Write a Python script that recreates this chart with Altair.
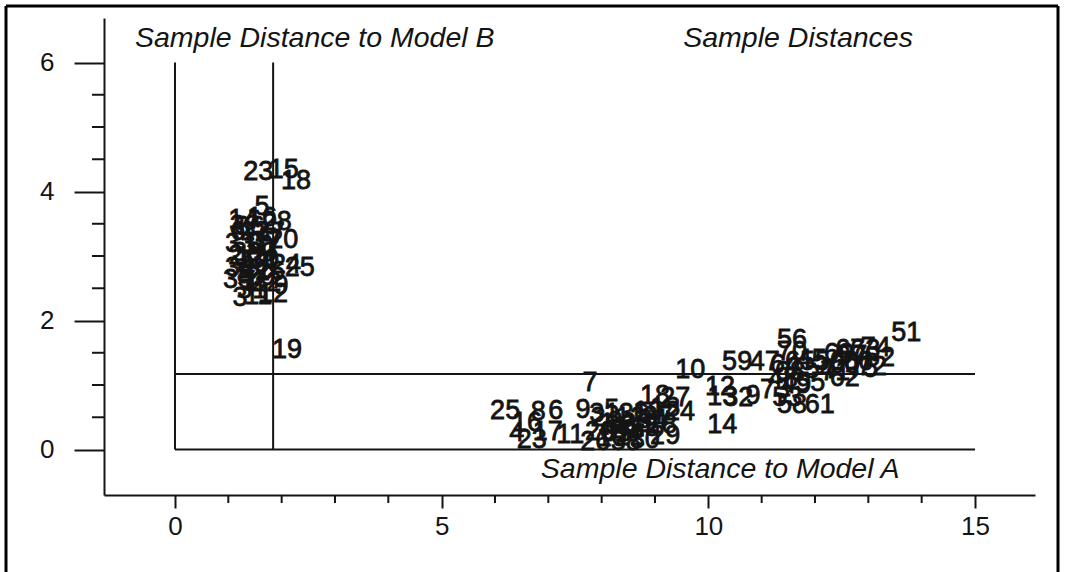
import altair as alt
import pandas as pd

# ---------- data ----------
# Model B training samples
b_labels = ["23", "15", "18", "5", "14", "16", "28", "32", "6", "13", "27", "20", "33", "10", "7",
            "2", "17", "30", "24", "25", "34", "21", "26", "35", "1", "22", "9", "3", "11", "12", "19",
            "36", "37", "38", "39", "40", "4", "8", "29", "31"]
b_x = [1.56, 2.04, 2.27, 1.63, 1.28, 1.63, 1.91, 1.31, 1.18, 1.50, 1.78, 2.03, 1.22, 1.56, 1.82,
       1.14, 1.41, 1.67, 2.08, 2.34, 1.22, 1.52, 1.78, 1.18, 1.44, 1.71, 1.99, 1.22, 1.56, 1.84, 2.10,
       1.40, 1.70, 1.35, 1.62, 1.48, 1.75, 1.30, 1.60, 1.45]
b_y = [4.30, 4.33, 4.16, 3.76, 3.56, 3.59, 3.53, 3.47, 3.37, 3.37, 3.36, 3.25, 3.19, 3.16, 3.09,
       3.00, 2.97, 2.94, 2.86, 2.81, 2.81, 2.78, 2.75, 2.63, 2.60, 2.58, 2.53, 2.35, 2.38, 2.41, 1.54,
       3.45, 3.22, 3.05, 3.05, 2.88, 2.90, 2.70, 2.68, 2.48]

# Model A training samples
a_labels = ["7", "25", "16", "8", "6", "4", "23", "17", "11", "9", "5", "2", "3", "12", "19", "13",
            "18", "27", "24", "20", "10", "21", "15", "28", "26", "22", "29", "30", "1", "14",
            "31", "32", "33", "34", "35", "36", "37", "38"]
a_x = [7.78, 6.19, 6.60, 6.81, 7.14, 6.41, 6.69, 6.99, 7.41, 7.65, 8.19, 7.93, 8.25, 8.53, 8.87, 9.19,
       9.00, 9.38, 9.47, 7.97, 8.19, 8.44, 8.81, 9.13, 7.88, 8.53, 9.19, 8.81, 8.10, 10.26,
       8.05, 8.35, 8.65, 8.95, 8.30, 8.60, 9.05, 8.45]
a_y = [1.03, 0.60, 0.41, 0.58, 0.60, 0.26, 0.15, 0.27, 0.22, 0.61, 0.61, 0.49, 0.43, 0.49, 0.58, 0.64,
       0.83, 0.80, 0.58, 0.27, 0.18, 0.30, 0.33, 0.38, 0.12, 0.20, 0.21, 0.15, 0.40, 0.38,
       0.55, 0.36, 0.40, 0.45, 0.25, 0.55, 0.50, 0.12]

# test samples
t_labels = ["10", "12", "13", "32", "9", "59", "47", "56", "70", "64", "65", "68", "45", "55", "73",
            "53", "58", "61", "62", "50", "67", "63", "74", "66", "60", "72", "52", "51", "71", "54",
            "57", "69", "75", "48", "49"]
t_x = [9.66, 10.22, 10.26, 10.56, 10.84, 10.54, 11.06, 11.57, 11.57, 11.44, 11.72, 11.53, 11.94, 11.91, 11.25,
       11.48, 11.57, 12.09, 12.56, 12.28, 12.66, 12.94, 13.14, 12.81, 12.56, 13.07, 13.22, 13.71, 12.38, 12.09,
       12.70, 12.45, 12.90, 11.40, 11.65]
t_y = [1.23, 0.97, 0.81, 0.80, 0.83, 1.36, 1.36, 1.70, 1.51, 1.31, 1.36, 1.20, 1.39, 1.03, 0.92,
       0.80, 0.69, 0.69, 1.11, 1.36, 1.54, 1.54, 1.57, 1.36, 1.31, 1.28, 1.42, 1.81, 1.20, 1.23,
       1.45, 1.48, 1.25, 1.10, 1.00]

# critical-distance limits
crit_a = 1.84
crit_b = 1.17
x_major = [0, 5, 10, 15]
y_major = [0, 2, 4, 6]
x_minor = [1, 2, 3, 4, 6, 7, 8, 9, 11, 12, 13, 14]
y_minor = [0.5, 1, 1.5, 2.5, 3, 3.5, 4.5, 5, 5.5]

annotations = ["Sample Distance to Model B", "Sample Distances", "Sample Distance to Model A"]
ann_x = [-0.75, 9.53, 6.86]
ann_y = [6.38, 6.38, -0.30]

# ---------- tables ----------
pts = pd.DataFrame({
    "label": b_labels + a_labels + t_labels,
    "x": b_x + a_x + t_x,
    "y": b_y + a_y + t_y,
})
vlines = pd.DataFrame({"x": [0, crit_a], "y": [0, 0], "y2": [6, 6]})
hlines = pd.DataFrame({"y": [0, crit_b], "x": [0, 0], "x2": [15, 15]})
xmin_df = pd.DataFrame({"x": x_minor})
ymin_df = pd.DataFrame({"y": y_minor})
ann_df = pd.DataFrame({"text": annotations, "x": ann_x, "y": ann_y})

W, H = 931, 477
FONT = "Liberation Sans"
INK = "#141414"

xs = alt.Scale(domain=[-1.331, 16.125], nice=False, zero=False)
ys = alt.Scale(domain=[-0.705, 6.69], nice=False, zero=False)

xaxis = alt.Axis(values=x_major, format="d", tickSize=13, tickWidth=2, domainWidth=2,
                 grid=False, title=None, labelFlush=False, labelPadding=5)
yaxis = alt.Axis(values=y_major, format="d", tickSize=30, tickWidth=2, domainWidth=2,
                 grid=False, title=None, labelFlush=False, labelPadding=20)

X = lambda f: alt.X(f, scale=xs, axis=xaxis)
Y = lambda f: alt.Y(f, scale=ys, axis=yaxis)

vl = alt.Chart(vlines).mark_rule(color=INK, strokeWidth=2).encode(
    x=X("x:Q"), y=Y("y:Q"), y2="y2:Q")
hl = alt.Chart(hlines).mark_rule(color=INK, strokeWidth=2).encode(
    y=Y("y:Q"), x=X("x:Q"), x2="x2:Q")

xminor = alt.Chart(xmin_df).mark_rule(color=INK, strokeWidth=2).encode(
    x=X("x:Q"), y=alt.value(H), y2=alt.value(H + 8))
yminor = alt.Chart(ymin_df).mark_rule(color=INK, strokeWidth=2).encode(
    y=Y("y:Q"), x=alt.value(-12), x2=alt.value(0))

ann = alt.Chart(ann_df).mark_text(font=FONT, fontSize=28.5, fontStyle="italic", color=INK,
                                  align="left", baseline="middle").encode(
    x=X("x:Q"), y=Y("y:Q"), text="text:N")

points = alt.Chart(pts).mark_text(font=FONT, fontSize=27, color=INK, stroke=INK,
                                  strokeWidth=0.8, align="center", baseline="middle").encode(
    x=X("x:Q"), y=Y("y:Q"), text="label:N")

one = alt.Data(values=[{}])
frame_l = alt.Chart(one).mark_rule(color="black", strokeWidth=3).encode(
    x=alt.value(-98), y=alt.value(-12), y2=alt.value(H + 80))
frame_t = alt.Chart(one).mark_rule(color="black", strokeWidth=3).encode(
    x=alt.value(-98), x2=alt.value(954), y=alt.value(-12))
frame_r = alt.Chart(one).mark_rule(color="black", strokeWidth=3).encode(
    x=alt.value(954), y=alt.value(-12), y2=alt.value(H + 80))

chart = alt.layer(vl, hl, xminor, yminor, ann, points, frame_l, frame_t, frame_r).properties(
    width=W, height=H,
    autosize=alt.AutoSizeParams(type="none"),
    padding={"left": 104, "top": 18, "right": 30, "bottom": 77},
    background="white",
).configure_view(stroke=None).configure_axis(
    labelFontSize=26, labelFont=FONT, labelColor=INK, domainColor=INK, tickColor=INK,
)

chart.save("out.html", embed_options={"renderer": "svg", "actions": False})
